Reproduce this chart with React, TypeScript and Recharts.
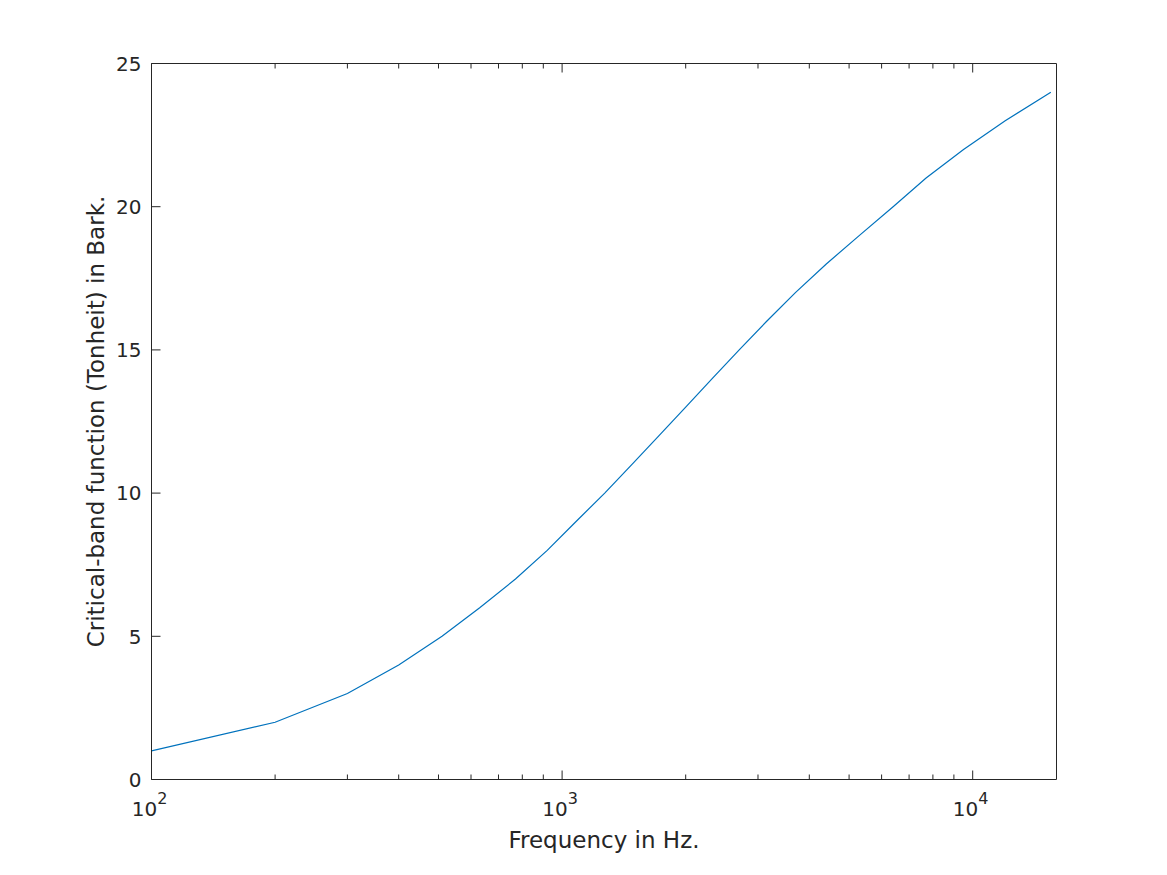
import React from "react";
import { LineChart, Line, XAxis, YAxis, Label } from "recharts";

// critical-band edges (Hz) and the Bark value reached at each edge
const frequencies = [
  100, 200, 300, 400, 510, 630, 770, 920, 1080, 1270, 1480, 1720, 2000, 2320,
  2700, 3150, 3700, 4400, 5300, 6400, 7700, 9500, 12000, 15500,
];
const barks = [
  1, 2, 3, 4, 5, 6, 7, 8, 9, 10, 11, 12, 13, 14, 15, 16, 17, 18, 19, 20, 21,
  22, 23, 24,
];

const majorX = [100, 1000, 10000];
const xTicks = [
  100, 200, 300, 400, 500, 600, 700, 800, 900, 1000, 2000, 3000, 4000, 5000,
  6000, 7000, 8000, 9000, 10000,
];
const yTicks = [0, 5, 10, 15, 20, 25];

const data = frequencies.map((f, i) => ({ freq: f, bark: barks[i] }));

const AXIS = "#262626";
const FONT = "DejaVu Sans, sans-serif";

// plot box edges, derived from the chart margins + axis sizes below
// (half-pixel offsets keep the 1px box lines crisp)
const W = 1167;
const H = 875;
const margin = { top: 53.5, right: 100.5, left: 91.5, bottom: 55.5 };
const leftW = 60;
const rightW = 10;
const topH = 10;
const bottomH = 40;
const PL = margin.left + leftW;
const PR = W - margin.right - rightW;
const PT = margin.top + topH;
const PB = H - margin.bottom - bottomH;

const BottomTick = (props: any) => {
  const { x, payload } = props;
  const major = majorX.includes(payload.value);
  const exp = Math.round(Math.log10(payload.value));
  return (
    <g>
      <line x1={x} y1={PB} x2={x} y2={PB - (major ? 9 : 5)} stroke={AXIS} />
      {major && (
        <text
          x={x - 2}
          y={PB + 36}
          textAnchor="middle"
          fill={AXIS}
          fontFamily={FONT}
          fontSize={20}
        >
          <tspan>10</tspan>
          <tspan dy={-12} fontSize={16}>
            {exp}
          </tspan>
        </text>
      )}
    </g>
  );
};

const TopTick = (props: any) => {
  const { x, payload } = props;
  const major = majorX.includes(payload.value);
  return <line x1={x} y1={PT} x2={x} y2={PT + (major ? 9 : 5)} stroke={AXIS} />;
};

const LeftTick = (props: any) => {
  const { y, payload } = props;
  return (
    <g>
      <line x1={PL} y1={y} x2={PL + 9} y2={y} stroke={AXIS} />
      <text
        x={PL - 10}
        y={y}
        dy="0.36em"
        textAnchor="end"
        fill={AXIS}
        fontFamily={FONT}
        fontSize={20}
      >
        {payload.value}
      </text>
    </g>
  );
};

const RightTick = (props: any) => {
  const { y } = props;
  return <line x1={PR} y1={y} x2={PR - 9} y2={y} stroke={AXIS} />;
};

export default function App() {
  return (
    <div style={{ position: "absolute", left: 0, top: 0, background: "#fff" }}>
      <LineChart width={W} height={H} data={data} margin={margin}>
        <XAxis
          dataKey="freq"
          type="number"
          scale="log"
          domain={[100, 16000]}
          ticks={xTicks}
          interval={0}
          allowDataOverflow
          height={bottomH}
          tickLine={false}
          axisLine={{ stroke: AXIS }}
          tick={<BottomTick />}
        >
          <Label
            content={() => (
              <text
                x={(PL + PR) / 2}
                y={PB + 68}
                textAnchor="middle"
                fill={AXIS}
                fontFamily={FONT}
                fontSize={23}
              >
                Frequency in Hz.
              </text>
            )}
          />
        </XAxis>
        <XAxis
          xAxisId="top"
          orientation="top"
          dataKey="freq"
          type="number"
          scale="log"
          domain={[100, 16000]}
          ticks={xTicks}
          interval={0}
          allowDataOverflow
          height={topH}
          tickLine={false}
          axisLine={{ stroke: AXIS }}
          tick={<TopTick />}
        />
        <YAxis
          type="number"
          domain={[0, 25]}
          ticks={yTicks}
          interval={0}
          width={leftW}
          tickLine={false}
          axisLine={{ stroke: AXIS }}
          tick={<LeftTick />}
        >
          <Label
            content={() => {
              const cx = 104;
              const cy = (PT + PB) / 2;
              return (
                <text
                  x={cx}
                  y={cy}
                  transform={`rotate(-90, ${cx}, ${cy})`}
                  textAnchor="middle"
                  fill={AXIS}
                  fontFamily={FONT}
                  fontSize={23}
                >
                  Critical-band function (Tonheit) in Bark.
                </text>
              );
            }}
          />
        </YAxis>
        <YAxis
          yAxisId="right"
          orientation="right"
          type="number"
          domain={[0, 25]}
          ticks={yTicks}
          interval={0}
          width={rightW}
          tickLine={false}
          axisLine={{ stroke: AXIS }}
          tick={<RightTick />}
        />
        <Line
          type="linear"
          dataKey="bark"
          stroke="#0072BD"
          strokeWidth={1.2}
          dot={false}
          isAnimationActive={false}
        />
      </LineChart>
    </div>
  );
}
